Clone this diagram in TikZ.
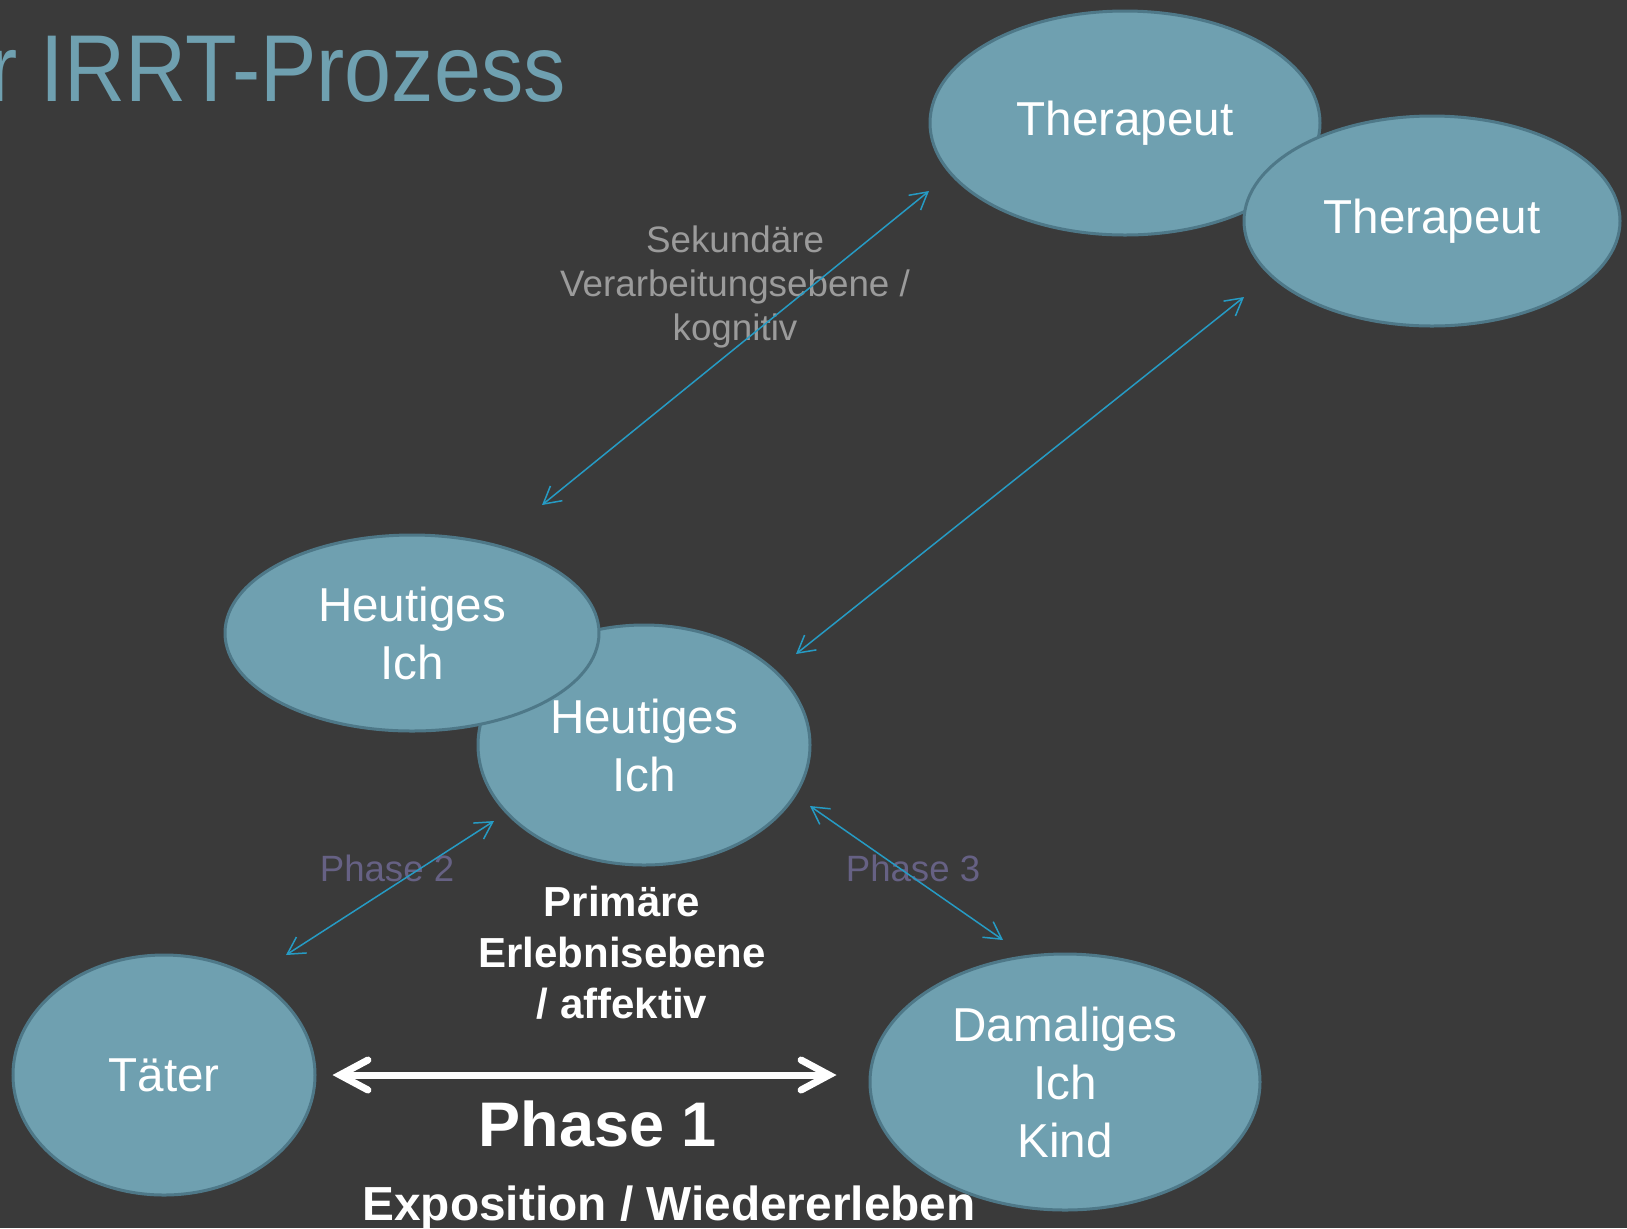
\documentclass[tikz,border=0pt]{standalone}
\usepackage{fontspec}
\setmainfont{Liberation Sans}
\newfontfamily\titlefont[FakeStretch=0.89]{Liberation Sans}
\usetikzlibrary{shapes.geometric,arrows.meta}

\definecolor{bgdark}{RGB}{58,58,58}
\definecolor{tealfill}{RGB}{111,160,176}
\definecolor{tealline}{RGB}{78,120,136}
\definecolor{arrowblue}{RGB}{38,155,196}
\definecolor{labelgray}{RGB}{155,155,155}
\definecolor{phasegray}{RGB}{102,97,132}

\begin{document}
\begin{tikzpicture}[x=0.5pt,y=-0.5pt,
    person/.style={ellipse,draw=tealline,line width=1.5pt,fill=tealfill,inner sep=0pt,
      align=center,text=white,font=\fontsize{23.8}{29}\selectfont},
    bluearrow/.style={draw=arrowblue,line width=0.75pt,
      {Straight Barb[length=8.5pt,width=9.5pt]}-{Straight Barb[length=8.5pt,width=9.5pt]}},
    whitearrow/.style={draw=white,line width=3.5pt,
      {Straight Barb[length=14pt,width=15pt,line cap=round,line join=miter]}-{Straight Barb[length=14pt,width=15pt,line cap=round,line join=miter]}},
    phaselabel/.style={text=phasegray,font=\fontsize{18.3}{22}\selectfont,inner sep=0pt,anchor=base}]
  \useasboundingbox (0,0) rectangle (1627,1228);
  \clip (0,0) rectangle (1627,1228);
  \fill[bgdark] (0,0) rectangle (1627,1228);

  % title, cut at the left edge
  \node[anchor=base east,inner sep=0pt,text=tealfill,font=\titlefont\fontsize{47.5}{57}\selectfont] (title) at (566,101) {r IRRT-Prozess};

  % levels
  \node[text=labelgray,align=center,font=\fontsize{18.4}{22.2}\selectfont] (sekundaer) at (735,287) {Sekundäre\\Verarbeitungsebene /\\kognitiv};
  \node[text=white,align=center,font=\bfseries\fontsize{21}{25.5}\selectfont] (primaer) at (622,953) {Primäre\\Erlebnisebene\\/ affektiv};
  \node[phaselabel] (phase2) at (387,881) {Phase 2};
  \node[phaselabel] (phase3) at (913,881) {Phase 3};
  \node[anchor=base,inner sep=0pt,text=white,font=\bfseries\fontsize{31.5}{38}\selectfont] (phase1) at (598,1146) {Phase 1};
  \node[anchor=base,inner sep=0pt,text=white,font=\bfseries\fontsize{23.9}{29}\selectfont] (exposition) at (669,1220) {Exposition / Wiedererleben};

  % persons
  \node[person,minimum width=195pt,minimum height=112pt] (therapeut1) at (1125,123) {Therapeut};
  \node[person,minimum width=188pt,minimum height=105pt] (therapeut2) at (1432,221) {Therapeut};
  \node[person,minimum width=166pt,minimum height=120pt] (heute2) at (644,745) {Heutiges\\Ich};
  \node[person,minimum width=187pt,minimum height=98pt] (heute1) at (412,633) {Heutiges\\Ich};
  \node[person,minimum width=151pt,minimum height=120pt] (taeter) at (164,1075) {Täter};
  \node[person,minimum width=195pt,minimum height=128pt] (damals) at (1065,1082) {Damaliges\\Ich\\Kind};

  % free ends of the blue arrows
  \coordinate (kog1a) at (542,505);
  \coordinate (kog1b) at (929,191);
  \coordinate (kog2a) at (796,654);
  \coordinate (kog2b) at (1244,297);
  \coordinate (ph2a) at (286,955);
  \coordinate (ph2b) at (494,821);
  \coordinate (ph3a) at (810,806);
  \coordinate (ph3b) at (1003,940);

  \draw[bluearrow] (kog1a) -- (kog1b);
  \draw[bluearrow] (kog2a) -- (kog2b);
  \draw[bluearrow] (ph2a) -- (ph2b);
  \draw[bluearrow] (ph3a) -- (ph3b);

  % phase 1
  \draw[whitearrow] ([xshift=8pt]taeter.east) -- ([xshift=-16pt]taeter.east -| damals.west);
\end{tikzpicture}
\end{document}
